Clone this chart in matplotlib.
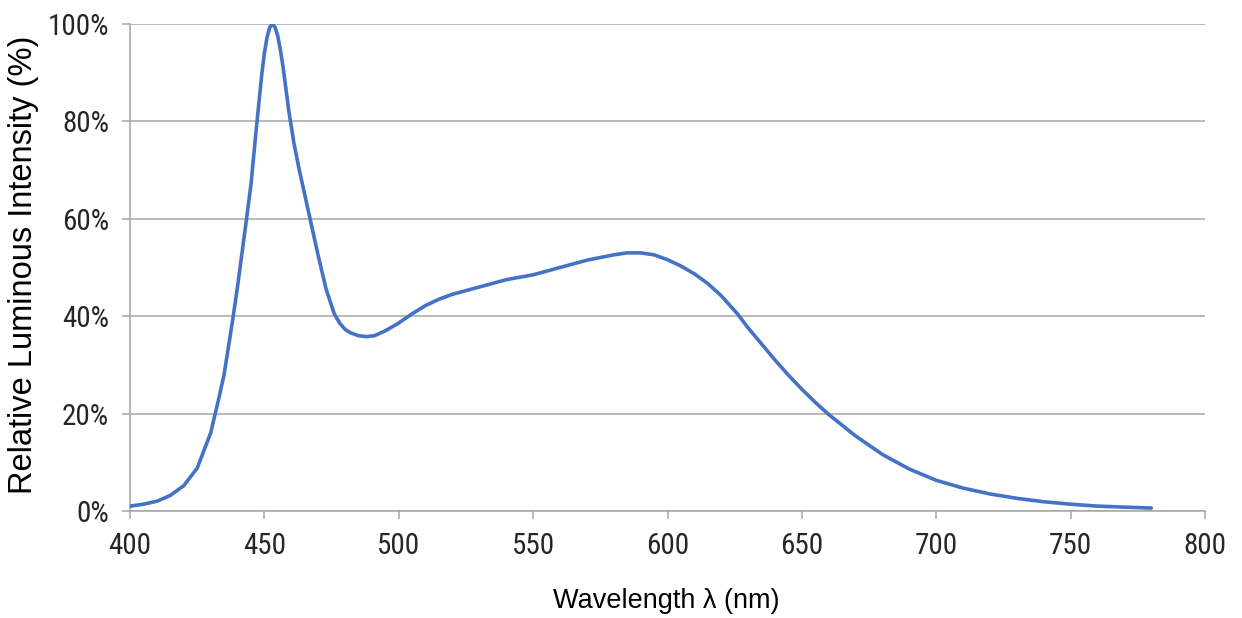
import numpy as np
import matplotlib.pyplot as plt
from matplotlib.ticker import FuncFormatter

wavelength = [400, 405, 410, 415, 420, 425, 430, 433, 435, 438, 440, 443, 445, 447,
              449, 450, 451, 452, 453, 454, 455, 456, 457, 459, 461, 463, 465, 467, 470,
              473, 476, 478, 480, 482, 485, 488, 491, 495, 500, 505, 510, 515, 520, 530,
              540, 550, 560, 570, 580, 585, 590, 595, 600, 605, 610, 615, 620, 626, 630,
              635, 640, 645, 650, 655, 660, 670, 680, 690, 700, 710, 720, 730, 740, 750,
              760, 770, 780]
intensity = [1.0, 1.4, 2.0, 3.2, 5.2, 8.8, 16.0, 23.0, 28.0, 38.5, 46.0, 58.5, 67.0, 78.5,
             89.5, 94.0, 97.3, 99.3, 100.0, 99.3, 97.5, 94.5, 91.0, 82.5, 75.5, 70.0, 65.0,
             60.0, 52.5, 45.5, 40.5, 38.6, 37.3, 36.6, 36.0, 35.8, 36.0, 37.0, 38.6, 40.5,
             42.2, 43.5, 44.5, 46.0, 47.5, 48.5, 50.0, 51.5, 52.6, 53.0, 53.0, 52.6, 51.6,
             50.3, 48.7, 46.7, 44.2, 40.5, 37.6, 34.3, 31.0, 27.9, 25.0, 22.3, 19.8, 15.4,
             11.6, 8.6, 6.3, 4.7, 3.5, 2.6, 1.9, 1.4, 1.0, 0.8, 0.6]

x_ticks = [400, 450, 500, 550, 600, 650, 700, 750, 800]
y_ticks = [0, 20, 40, 60, 80, 100]

grid_col = '#a6a6a6'
text_col = '#262626'
font = ['Liberation Sans', 'DejaVu Sans']
narrow = ['Liberation Sans Narrow', 'Roboto Condensed', 'Open Sans Condensed',
          'DejaVu Sans Condensed', 'Liberation Sans']

fig = plt.figure(figsize=(12.42, 6.18), dpi=100)
ax = fig.add_axes([130 / 1242, 1 - 511 / 618, 1075 / 1242, 487 / 618])

ax.plot(wavelength, intensity, color='#4472C4', lw=2.6, solid_capstyle='round',
        solid_joinstyle='round', zorder=3)

ax.set_xlim(400, 800)
ax.set_ylim(0, 100)
ax.set_xticks(x_ticks)
ax.set_yticks(y_ticks)
ax.yaxis.set_major_formatter(FuncFormatter(lambda v, p: f'{v:.0f}%'))

ax.grid(axis='y', color=grid_col, lw=1.1)
ax.set_axisbelow(True)
for s in ['top', 'right']:
    ax.spines[s].set_visible(False)
for s in ['left', 'bottom']:
    ax.spines[s].set_color(grid_col)
    ax.spines[s].set_linewidth(1.1)

ax.tick_params(axis='both', direction='out', length=6, width=1.1, color=grid_col,
               labelcolor=text_col, labelsize=21, pad=9)
for lab in ax.get_xticklabels() + ax.get_yticklabels():
    lab.set_family(narrow)
    lab.set_stretch('condensed')

fig.text(666 / 1242, 1 - 601 / 618, 'Wavelength λ (nm)', ha='center', va='center',
         fontsize=19.5, family=font, color='black')
fig.text(24 / 1242, 1 - 265 / 618, 'Relative Luminous Intensity (%)', ha='center',
         va='center', rotation=90, fontsize=23.5, family=font, color='black')

fig.savefig('out.png', dpi=100)
